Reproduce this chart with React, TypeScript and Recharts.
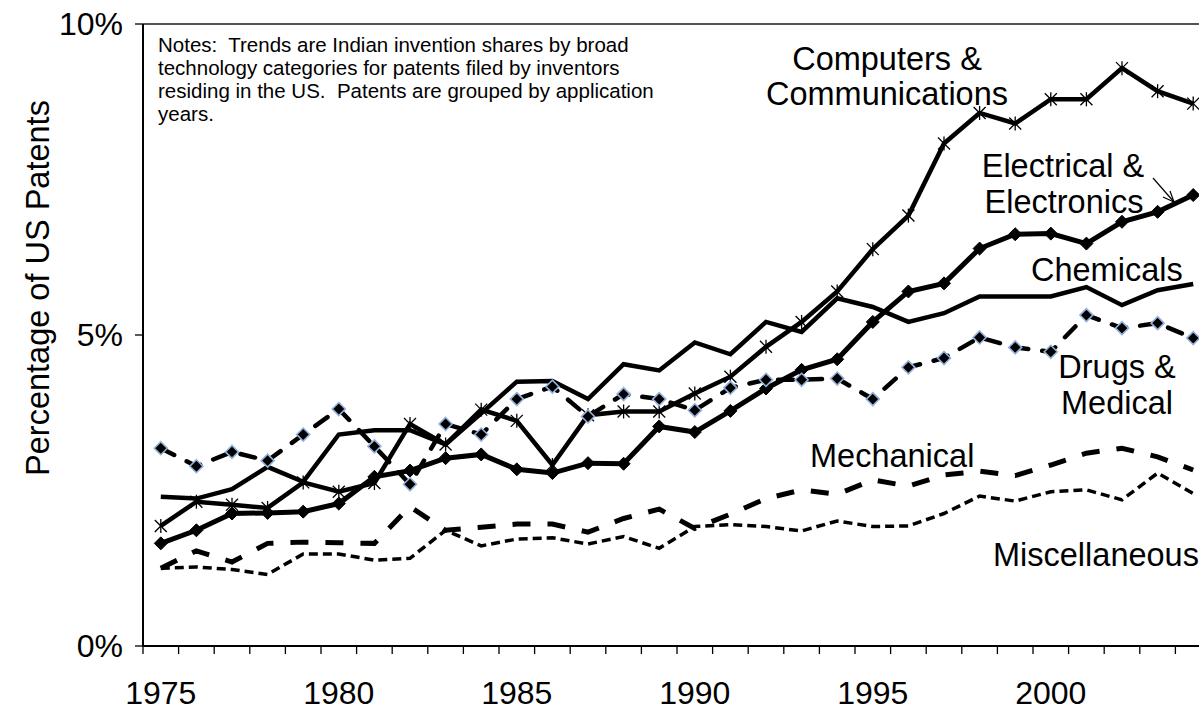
import { LineChart, Line, XAxis, YAxis, ReferenceLine, Customized } from 'recharts'

const years = [
    1975, 1976, 1977, 1978, 1979, 1980, 1981, 1982, 1983, 1984, 1985, 1986, 1987, 1988, 1989,
    1990, 1991, 1992, 1993, 1994, 1995, 1996, 1997, 1998, 1999, 2000, 2001, 2002, 2003, 2004,
]

const computers = [
    1.93, 2.32, 2.27, 2.22, 2.63, 2.48, 2.62, 3.57, 3.24, 3.8, 3.62, 2.91, 3.71, 3.77, 3.77,
    4.06, 4.33, 4.81, 5.21, 5.7, 6.38, 6.92, 8.08, 8.57, 8.4, 8.79, 8.79, 9.29, 8.92, 8.72,
]
const electrical = [
    1.65, 1.86, 2.13, 2.14, 2.16, 2.29, 2.72, 2.82, 3.02, 3.08, 2.84, 2.78, 2.94, 2.93, 3.53,
    3.44, 3.78, 4.14, 4.44, 4.61, 5.21, 5.7, 5.83, 6.39, 6.62, 6.63, 6.47, 6.82, 6.98, 7.25,
]
const chemicals = [
    2.4, 2.37, 2.52, 2.88, 2.64, 3.4, 3.47, 3.47, 3.24, 3.74, 4.25, 4.26, 3.97, 4.53, 4.43,
    4.88, 4.69, 5.21, 5.05, 5.59, 5.45, 5.21, 5.35, 5.62, 5.62, 5.62, 5.77, 5.48, 5.72, 5.82,
]
const drugs = [
    3.18, 2.89, 3.12, 2.98, 3.4, 3.81, 3.21, 2.6, 3.57, 3.4, 3.97, 4.17, 3.69, 4.05, 3.97,
    3.79, 4.15, 4.28, 4.28, 4.3, 3.97, 4.48, 4.63, 4.96, 4.8, 4.73, 5.32, 5.11, 5.19, 4.95,
]
const mechanical = [
    1.25, 1.53, 1.35, 1.65, 1.67, 1.66, 1.65, 2.24, 1.86, 1.91, 1.96, 1.96, 1.83, 2.05, 2.2,
    1.89, 2.12, 2.37, 2.51, 2.44, 2.67, 2.57, 2.75, 2.81, 2.74, 2.91, 3.1, 3.18, 3.04, 2.83,
]
const misc = [
    1.25, 1.27, 1.23, 1.15, 1.48, 1.48, 1.38, 1.41, 1.86, 1.61, 1.72, 1.74, 1.64, 1.76, 1.57,
    1.92, 1.95, 1.92, 1.85, 2.01, 1.92, 1.93, 2.13, 2.41, 2.33, 2.48, 2.51, 2.35, 2.78, 2.45,
]

const yearLabels = ['1975', '1980', '1985', '1990', '1995', '2000']
const yTicks = [0, 5, 10]
const notes = [
    'Notes:  Trends are Indian invention shares by broad',
    'technology categories for patents filed by inventors',
    'residing in the US.  Patents are grouped by application',
    'years.',
]

const data = years.map((year, i) => ({
    year,
    computers: computers[i],
    electrical: electrical[i],
    chemicals: chemicals[i],
    drugs: drugs[i],
    mechanical: mechanical[i],
    misc: misc[i],
}))

// Excel style: tick marks sit between categories
const tickBounds = [...years.map((y) => y - 0.5), years[years.length - 1] + 0.5]

const FONT = 'Arial, "Liberation Sans", sans-serif'
const PLOT_W = 1068
const CAT_W = PLOT_W / years.length

function YearTick(props: any) {
    const { x, y, payload } = props
    const label = String(payload.value + 0.5)
    if (!yearLabels.includes(label)) return null
    return (
        <text x={x + CAT_W / 2} y={y + 48} textAnchor="middle" fontSize={32} fontFamily={FONT} fill="#000">
            {label}
        </text>
    )
}

function Star(props: any) {
    const { cx, cy } = props
    if (cx == null || cy == null) return null
    const r = 6
    return (
        <g stroke="#000" strokeWidth={1.3}>
            <line x1={cx - r} y1={cy - r} x2={cx + r} y2={cy + r} />
            <line x1={cx - r} y1={cy + r} x2={cx + r} y2={cy - r} />
            <line x1={cx} y1={cy - r - 1} x2={cx} y2={cy + r + 1} />
        </g>
    )
}

function Diamond(props: any) {
    const { cx, cy, outline } = props
    if (cx == null || cy == null) return null
    const r = 6.5
    return (
        <path
            d={`M${cx},${cy - r}L${cx + r},${cy}L${cx},${cy + r}L${cx - r},${cy}Z`}
            fill="#000"
            stroke={outline ? '#95b0dc' : '#000'}
            strokeWidth={outline ? 1.6 : 1}
        />
    )
}

function Annotations() {
    const t = { fontFamily: FONT, fontSize: 32.5, fill: '#000' }
    return (
        <g>
            {notes.map((line, i) => (
                <text key={i} x={158} y={51.5 + i * 23} fontSize={20.5} fontFamily={FONT} fill="#000" style={{ whiteSpace: 'pre' }}>
                    {line}
                </text>
            ))}
            <text x={38} y={288} transform="rotate(-90 38 288)" textAnchor="middle" dominantBaseline="central" fontSize={32.5} fontFamily={FONT} fill="#000">
                Percentage of US Patents
            </text>
            <text {...t} x={887} y={70} textAnchor="middle">Computers &amp;</text>
            <text {...t} x={887} y={105} textAnchor="middle">Communications</text>
            <text {...t} x={1063} y={177} textAnchor="middle">Electrical &amp;</text>
            <text {...t} x={1064} y={213} textAnchor="middle">Electronics</text>
            <line x1={1153} y1={178} x2={1174} y2={202} stroke="#000" strokeWidth={1.2} />
            <path d="M1174,202 L1163,197 M1174,202 L1170,191" stroke="#000" strokeWidth={1.2} fill="none" />
            <text {...t} x={1031} y={281}>Chemicals</text>
            <text {...t} x={1117} y={378} textAnchor="middle">Drugs &amp;</text>
            <text {...t} x={1117} y={414} textAnchor="middle">Medical</text>
            <text {...t} x={810} y={467}>Mechanical</text>
            <text {...t} x={993} y={566}>Miscellaneous</text>
        </g>
    )
}

export default function App() {
    return (
        <div style={{ position: 'fixed', left: 0, top: 0, width: 1199, height: 713, overflow: 'hidden', background: '#fff' }}>
            <LineChart
                width={1230}
                height={713}
                data={data}
                margin={{ top: 24, right: 19, left: 0, bottom: 0 }}
            >
                <XAxis
                    dataKey="year"
                    type="number"
                    domain={[1974.5, 2004.5]}
                    ticks={tickBounds}
                    interval={0}
                    height={67}
                    tickSize={8}
                    axisLine={{ stroke: '#000', strokeWidth: 2 }}
                    tickLine={{ stroke: '#000', strokeWidth: 1.3 }}
                    tick={<YearTick />}
                />
                <YAxis
                    type="number"
                    domain={[0, 10]}
                    ticks={yTicks}
                    width={143}
                    tickSize={8}
                    tickMargin={12}
                    tickFormatter={(v) => `${v}%`}
                    axisLine={{ stroke: '#000', strokeWidth: 2 }}
                    tickLine={{ stroke: '#000', strokeWidth: 1.3 }}
                    tick={{ fill: '#000', fontSize: 32, fontFamily: FONT }}
                />
                <ReferenceLine y={10} stroke="#555" strokeWidth={2} />
                <Line
                    dataKey="misc"
                    stroke="#000"
                    strokeWidth={3.5}
                    strokeDasharray="9 5"
                    dot={false}
                    isAnimationActive={false}
                />
                <Line
                    dataKey="mechanical"
                    stroke="#000"
                    strokeWidth={5}
                    strokeDasharray="18 17"
                    dot={false}
                    isAnimationActive={false}
                />
                <Line
                    dataKey="chemicals"
                    stroke="#000"
                    strokeWidth={4.5}
                    dot={false}
                    isAnimationActive={false}
                />
                <Line
                    dataKey="electrical"
                    stroke="#000"
                    strokeWidth={5}
                    dot={<Diamond />}
                    isAnimationActive={false}
                />
                <Line
                    dataKey="computers"
                    stroke="#000"
                    strokeWidth={4.5}
                    dot={<Star />}
                    isAnimationActive={false}
                />
                <Line
                    dataKey="drugs"
                    stroke="#000"
                    strokeWidth={4.5}
                    strokeDasharray="15 14"
                    strokeLinecap="round"
                    dot={<Diamond outline />}
                    isAnimationActive={false}
                />
                <Customized component={<Annotations />} />
            </LineChart>
        </div>
    )
}
